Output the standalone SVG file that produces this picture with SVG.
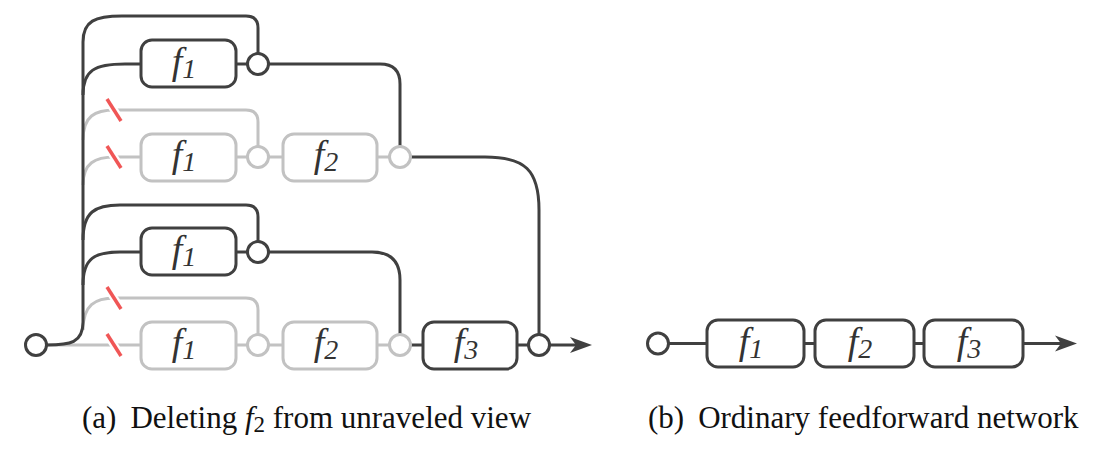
<svg xmlns="http://www.w3.org/2000/svg" width="1117" height="454" viewBox="0 0 1117 454">
<style>
.dk{fill:none;stroke:#404040;stroke-width:3}
.gr{fill:none;stroke:#c2c2c2;stroke-width:3}
.bx{fill:#fff;stroke-width:3}
.bd{stroke:#404040}
.bg{stroke:#c2c2c2}
.lbl{font-family:"Liberation Serif",serif;font-style:italic;font-size:38px;fill:#333;text-anchor:middle}
.sub{font-size:28px}
.cap{font-family:"Liberation Serif",serif;font-size:31px;fill:#111}
.cut{stroke:#f05656;stroke-width:3.5;stroke-linecap:butt}
.halo{stroke:#fff;stroke-width:8}
</style>
<defs>
<g id="slash"><line class="halo" x1="-7" y1="-11" x2="7" y2="11"/><line class="cut" x1="-7" y1="-11" x2="7" y2="11"/></g>
</defs>
<rect width="1117" height="454" fill="#fff"/>
<g id="connectors">
<path class="gr" d="M83,140 C83,116 95,110 115,110 H246 Q258,110 258,122 V146"/>
<path class="gr" d="M83,185 C83,163 95,157 115,157 H141"/>
<path class="gr" d="M236,157 H247 M269,157 H283 M377,157 H389"/>
<path class="gr" d="M83,330 C83,305 95,298 115,298 H246 Q258,298 258,310 V334"/>
<path class="gr" d="M47,345 H141"/>
<path class="gr" d="M236,345 H247 M269,345 H283 M377,345 H389"/>
<path class="dk" d="M47,345 C70,345 83,343 83,322 V42 C83,21 95,16 122,16 H246 Q258,16 258,28 V53"/>
<path class="dk" d="M83,95 C83,70 95,64 125,64 H141"/>
<path class="dk" d="M236,64 H247"/>
<path class="dk" d="M269,64 H380 Q400,64 400,84 V146"/>
<path class="dk" d="M83,240 C83,212 95,205 120,205 H246 Q258,205 258,217 V241"/>
<path class="dk" d="M83,285 C83,258 95,252 120,252 H141"/>
<path class="dk" d="M236,252 H247"/>
<path class="dk" d="M269,252 H372 Q400,252 400,280 V334"/>
<path class="dk" d="M411,157 H485 C525,157 539,170 539,210 V334"/>
<path class="dk" d="M411,345 H423 M517,345 H528 M550,345 H578"/>
<polygon points="592,345 570,337 576,345 570,353" fill="#404040"/>
<path class="dk" d="M669,343.5 H707 M804,343.5 H815 M914,343.5 H924 M1023,343.5 H1062"/>
<polygon points="1077,343.5 1055,335.5 1061,343.5 1055,351.5" fill="#404040"/>
</g>
<g id="cuts">
<use href="#slash" x="114" y="110"/>
<use href="#slash" x="114" y="157"/>
<use href="#slash" x="114" y="298"/>
<use href="#slash" x="114" y="345"/>
</g>
<g id="a-in"><circle class="bx bd" cx="36" cy="345" r="10.5"/></g>
<g id="a-f1-r1"><rect class="bx bd" x="141" y="40" width="95" height="47" rx="11"/><text class="lbl" x="184" y="74">f<tspan class="sub" dy="4">1</tspan></text></g>
<g id="a-j1"><circle class="bx bd" cx="258" cy="64" r="10.5"/></g>
<g id="a-f1-r2"><rect class="bx bg" x="141" y="134" width="95" height="47" rx="11"/><text class="lbl" x="184" y="167">f<tspan class="sub" dy="4">1</tspan></text></g>
<g id="a-j2"><circle class="bx bg" cx="258" cy="157" r="10.5"/></g>
<g id="a-f2-r2"><rect class="bx bg" x="283" y="134" width="94" height="47" rx="11"/><text class="lbl" x="326" y="167">f<tspan class="sub" dy="4">2</tspan></text></g>
<g id="a-j3"><circle class="bx bg" cx="400" cy="157" r="10.5"/></g>
<g id="a-f1-r3"><rect class="bx bd" x="141" y="228" width="95" height="47" rx="11"/><text class="lbl" x="184" y="262">f<tspan class="sub" dy="4">1</tspan></text></g>
<g id="a-j4"><circle class="bx bd" cx="258" cy="252" r="10.5"/></g>
<g id="a-f1-r4"><rect class="bx bg" x="141" y="322" width="95" height="47" rx="11"/><text class="lbl" x="184" y="355">f<tspan class="sub" dy="4">1</tspan></text></g>
<g id="a-j5"><circle class="bx bg" cx="258" cy="345" r="10.5"/></g>
<g id="a-f2-r4"><rect class="bx bg" x="283" y="322" width="94" height="47" rx="11"/><text class="lbl" x="326" y="355">f<tspan class="sub" dy="4">2</tspan></text></g>
<g id="a-j6"><circle class="bx bg" cx="400" cy="345" r="10.5"/></g>
<g id="a-f3"><rect class="bx bd" x="423" y="322" width="94" height="47" rx="11"/><text class="lbl" x="466" y="355">f<tspan class="sub" dy="4">3</tspan></text></g>
<g id="a-out"><circle class="bx bd" cx="539" cy="345" r="10.5"/></g>
<g id="b-in"><circle class="bx bd" cx="658" cy="343.5" r="10.5"/></g>
<g id="b-f1"><rect class="bx bd" x="707" y="320" width="97" height="47" rx="11"/><text class="lbl" x="751" y="354">f<tspan class="sub" dy="4">1</tspan></text></g>
<g id="b-f2"><rect class="bx bd" x="815" y="320" width="99" height="47" rx="11"/><text class="lbl" x="860" y="354">f<tspan class="sub" dy="4">2</tspan></text></g>
<g id="b-f3"><rect class="bx bd" x="924" y="320" width="99" height="47" rx="11"/><text class="lbl" x="969" y="354">f<tspan class="sub" dy="4">3</tspan></text></g>
<text class="cap" x="82" y="428">(a)<tspan dx="14">Deleting</tspan> <tspan font-style="italic">f</tspan><tspan font-size="23" dy="4">2</tspan><tspan dy="-4"> from unraveled view</tspan></text>
<text class="cap" x="648" y="428">(b)<tspan dx="14">Ordinary feedforward network</tspan></text>
</svg>
